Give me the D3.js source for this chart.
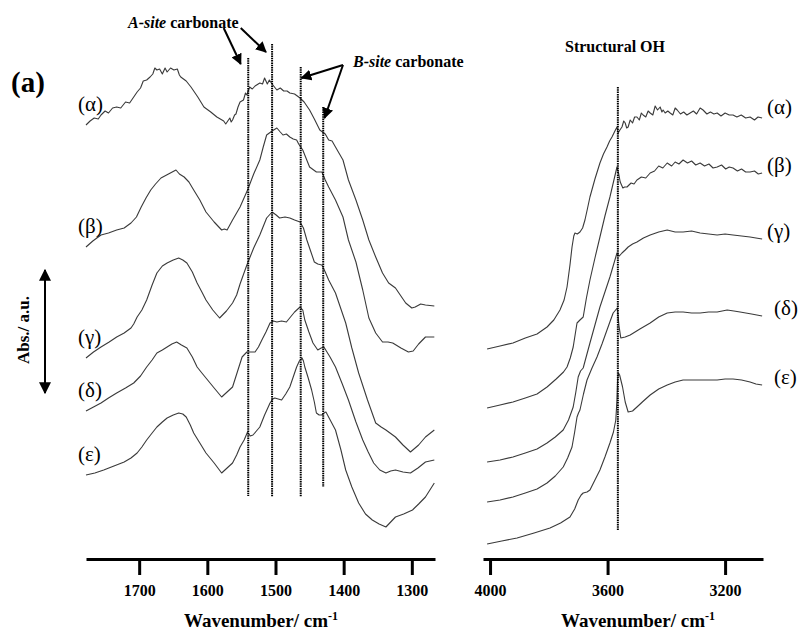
<!DOCTYPE html>
<html><head><meta charset="utf-8">
<script src="https://cdn.jsdelivr.net/npm/d3@7"></script>
<style>body{margin:0;background:#fff} svg text{font-family:'Liberation Serif','Times New Roman',Times,serif !important;fill:#000}</style>
</head><body><svg id="c" width="798" height="630"></svg>
<script>
// ---------- data ----------
const leftTicks = [1700, 1600, 1500, 1400, 1300];
const rightTicks = [4000, 3600, 3200];
const seriesLabels = ["(α)", "(β)", "(γ)", "(δ)", "(ε)"];

// carbonate region spectra [wavenumber, absorbance a.u.]
const carbAlpha = [[1778,43.5],[1772,43.9],[1766,44.2],[1760,44.1],[1756,44.5],[1750,44.9],[1745,44.7],[1739,45.2],[1733,45.3],[1727,45.2],[1720,45.8],[1714,45.7],[1708,46.3],[1703,46.8],[1698,47.2],[1694,47.9],[1689,48.0],[1684,48.3],[1680,48.6],[1677,49.2],[1674,49.0],[1670,49.1],[1666,48.6],[1662,49.2],[1659,48.8],[1654,49.2],[1649,49.0],[1644,49.1],[1641,48.5],[1639,48.3],[1631,47.9],[1624,47.3],[1614,46.3],[1605,45.3],[1595,44.8],[1586,44.3],[1576,43.9],[1573,43.6],[1571,43.8],[1567,44.2],[1565,43.8],[1563,44.0],[1560,44.5],[1558,44.6],[1555,45.3],[1552,45.8],[1547,46.0],[1544,46.7],[1542,46.5],[1538,47.3],[1534,47.1],[1530,47.4],[1523,47.7],[1519,47.6],[1516,48.2],[1512,47.6],[1509,48.0],[1505,47.6],[1498,47.0],[1493,47.2],[1488,46.9],[1483,46.9],[1479,46.7],[1472,46.6],[1464,46.2],[1458,45.8],[1450,45.0],[1443,44.1],[1435,43.0],[1431,42.8],[1427,42.6],[1422,42.0],[1417,41.9],[1412,41.3],[1401,40.0],[1393,38.0],[1382,36.0],[1372,34.0],[1363,32.0],[1353,30.3],[1343,28.7],[1334,27.7],[1324,27.2],[1309,25.7],[1300,25.2],[1295,25.3],[1287,25.6],[1280,25.5],[1267,25.4]];
const carbBeta = [[1778,31.3],[1768,31.9],[1756,32.5],[1745,32.7],[1733,33.0],[1722,33.2],[1712,33.7],[1704,34.3],[1697,35.3],[1690,36.2],[1683,37.0],[1676,37.6],[1668,38.2],[1657,38.6],[1646,39.0],[1641,38.6],[1634,38.3],[1627,37.8],[1620,37.0],[1611,36.0],[1602,34.8],[1590,33.8],[1579,33.0],[1575,33.1],[1571,33.0],[1563,34.0],[1552,35.3],[1541,37.0],[1532,38.6],[1523,40.0],[1518,41.3],[1513,42.5],[1505,42.9],[1498,43.2],[1493,42.8],[1489,42.5],[1484,42.6],[1479,42.3],[1474,42.1],[1469,42.0],[1466,41.6],[1460,41.0],[1450,39.3],[1440,38.8],[1432,38.8],[1427,38.0],[1422,37.3],[1412,36.0],[1401,34.3],[1393,32.0],[1382,29.8],[1372,27.0],[1363,24.2],[1353,22.7],[1343,21.8],[1335,21.8],[1328,21.7],[1316,21.2],[1305,20.8],[1298,20.9],[1290,21.6],[1280,22.3],[1267,22.3]];
const carbGamma = [[1778,20.2],[1767,20.8],[1756,21.3],[1744,21.8],[1733,22.3],[1722,22.7],[1712,23.2],[1708,23.6],[1703,24.3],[1696,25.0],[1689,26.0],[1681,27.5],[1674,28.7],[1666,29.4],[1659,29.7],[1650,30.0],[1642,30.2],[1636,30.0],[1630,29.7],[1622,28.8],[1615,27.7],[1608,26.8],[1602,26.0],[1592,25.0],[1582,24.2],[1572,24.9],[1563,25.7],[1557,26.5],[1552,27.6],[1542,29.5],[1532,31.2],[1523,32.5],[1513,34.2],[1505,34.8],[1499,34.5],[1494,34.2],[1486,34.3],[1479,34.2],[1472,34.0],[1464,33.8],[1459,33.2],[1454,32.0],[1448,30.8],[1443,29.8],[1438,29.6],[1432,29.5],[1427,28.8],[1422,28.0],[1412,26.7],[1397,23.7],[1388,21.2],[1378,18.7],[1365,16.0],[1353,13.7],[1345,13.3],[1338,13.0],[1324,12.3],[1313,11.5],[1302,10.8],[1290,11.5],[1280,12.3],[1267,13.0]];
const carbDelta = [[1778,14.9],[1767,15.3],[1756,15.7],[1745,16.2],[1733,16.7],[1720,17.2],[1708,17.7],[1698,18.4],[1689,19.3],[1681,20.0],[1674,20.7],[1666,21.0],[1659,21.3],[1652,21.6],[1645,21.8],[1638,21.5],[1630,21.2],[1622,20.3],[1615,19.3],[1608,18.7],[1602,18.2],[1590,17.2],[1579,16.3],[1571,16.8],[1563,17.3],[1556,18.8],[1549,20.3],[1542,20.8],[1536,20.8],[1530,20.8],[1525,21.3],[1520,22.0],[1514,22.8],[1508,23.7],[1503,23.9],[1498,23.8],[1491,23.9],[1484,23.8],[1478,24.3],[1472,24.8],[1464,25.3],[1460,25.0],[1457,24.0],[1451,22.8],[1445,21.7],[1438,21.0],[1433,21.2],[1429,21.3],[1420,20.3],[1412,19.3],[1402,17.6],[1393,16.0],[1382,13.8],[1372,12.0],[1364,10.8],[1356,9.7],[1347,9.0],[1338,8.7],[1331,8.9],[1324,9.0],[1313,8.8],[1302,8.7],[1291,9.2],[1280,9.8],[1267,10.0]];
const carbEpsilon = [[1778,8.5],[1765,8.7],[1752,9.0],[1737,9.4],[1722,9.8],[1712,10.2],[1703,10.7],[1696,11.3],[1689,12.0],[1681,12.7],[1674,13.3],[1666,13.8],[1659,14.2],[1650,14.5],[1642,14.7],[1636,14.6],[1631,14.3],[1625,13.5],[1620,12.7],[1611,11.7],[1602,10.7],[1590,9.7],[1579,8.7],[1571,9.2],[1563,9.7],[1557,10.5],[1552,11.3],[1546,12.0],[1541,12.8],[1537,12.4],[1533,12.5],[1528,12.9],[1523,13.3],[1516,14.5],[1508,15.7],[1504,16.1],[1501,16.2],[1496,16.1],[1491,16.0],[1485,16.6],[1479,17.3],[1474,18.3],[1469,19.3],[1465,19.9],[1461,20.2],[1459,19.9],[1457,19.3],[1452,18.2],[1447,17.0],[1443,15.8],[1440,14.7],[1436,14.5],[1432,14.5],[1429,14.7],[1426,14.8],[1419,13.9],[1412,13.0],[1404,11.0],[1397,9.0],[1388,7.3],[1378,5.7],[1368,4.6],[1358,4.0],[1348,3.6],[1338,3.3],[1331,3.8],[1324,4.3],[1312,4.6],[1299,5.0],[1290,5.6],[1280,6.3],[1267,7.7]];

// structural OH region spectra
const ohAlpha = [[4010,21.1],[3966,21.4],[3922,21.7],[3880,22.2],[3840,22.6],[3806,23.3],[3783,24.0],[3762,25.0],[3748,26.0],[3738,27.3],[3728,29.5],[3721,31.3],[3715,32.4],[3711,32.7],[3703,32.6],[3694,32.8],[3685,33.2],[3677,34.0],[3668,35.2],[3660,36.3],[3643,38.1],[3626,39.7],[3614,40.6],[3602,41.3],[3593,41.9],[3585,42.3],[3575,42.9],[3568,43.3],[3564,42.7],[3558,43.0],[3551,43.3],[3545,43.9],[3540,43.7],[3535,43.2],[3530,43.3],[3523,44.0],[3515,43.7],[3508,44.3],[3500,44.3],[3492,44.0],[3485,44.7],[3479,44.5],[3470,44.3],[3462,44.9],[3455,44.7],[3446,44.5],[3438,45.4],[3430,45.0],[3421,45.3],[3415,44.8],[3411,45.0],[3404,44.7],[3395,44.9],[3387,44.7],[3378,44.5],[3370,45.2],[3363,45.0],[3352,44.6],[3341,44.8],[3330,44.5],[3319,44.7],[3308,44.9],[3297,44.6],[3285,45.2],[3275,45.0],[3262,44.6],[3250,44.8],[3238,44.6],[3227,44.7],[3214,44.4],[3200,44.7],[3186,44.5],[3173,44.5],[3160,44.3],[3145,44.5],[3130,44.2],[3115,44.3],[3100,44.0],[3088,44.3],[3074,44.2]];
const ohBeta = [[4010,15.2],[3966,15.5],[3922,15.8],[3880,16.2],[3840,16.6],[3806,17.3],[3775,18.1],[3750,18.8],[3738,19.3],[3727,20.2],[3717,21.3],[3710,22.6],[3704,23.7],[3694,24.0],[3683,24.3],[3672,26.2],[3660,28.0],[3643,30.2],[3626,32.3],[3609,34.4],[3592,36.3],[3580,37.8],[3568,39.3],[3562,38.6],[3557,37.8],[3548,37.2],[3542,37.3],[3534,37.3],[3520,37.7],[3510,37.6],[3500,38.0],[3485,38.3],[3470,38.2],[3455,38.7],[3440,38.9],[3426,39.4],[3412,39.2],[3397,39.7],[3382,39.4],[3370,39.8],[3357,39.6],[3343,40.0],[3328,39.7],[3314,39.9],[3300,39.5],[3285,39.7],[3270,39.4],[3255,39.6],[3241,39.2],[3227,39.3],[3212,39.5],[3198,39.1],[3186,39.3],[3173,39.2],[3158,38.9],[3144,39.1],[3130,38.8],[3115,38.8],[3100,38.9],[3087,38.6],[3074,38.7]];
const ohGamma = [[4010,9.8],[3966,10.0],[3922,10.3],[3880,10.7],[3840,11.1],[3806,11.7],[3778,12.3],[3751,13.0],[3733,14.0],[3717,15.3],[3708,16.8],[3700,18.3],[3692,18.9],[3683,19.2],[3672,20.4],[3660,21.7],[3643,23.5],[3626,25.3],[3609,26.8],[3592,28.3],[3580,29.5],[3568,30.7],[3560,30.4],[3551,30.7],[3540,31.0],[3530,31.3],[3515,31.6],[3500,31.8],[3478,32.2],[3455,32.5],[3426,32.8],[3397,33.0],[3370,32.8],[3343,32.8],[3314,32.9],[3285,32.7],[3256,32.6],[3227,32.5],[3200,32.6],[3173,32.5],[3144,32.4],[3115,32.3],[3095,32.2],[3074,32.1]];
const ohDelta = [[4010,5.8],[3966,6.0],[3922,6.3],[3880,6.7],[3840,7.1],[3806,7.7],[3778,8.4],[3751,9.3],[3736,10.2],[3721,11.3],[3712,12.8],[3704,14.3],[3699,14.7],[3694,15.0],[3682,16.6],[3670,18.0],[3653,19.2],[3636,20.3],[3619,21.6],[3602,23.0],[3591,23.9],[3581,24.7],[3567,25.2],[3561,23.4],[3555,22.2],[3540,22.3],[3523,22.5],[3490,23.1],[3455,23.7],[3426,24.3],[3397,24.7],[3370,24.8],[3343,24.8],[3314,24.7],[3285,24.7],[3256,24.8],[3227,24.8],[3193,25.0],[3170,24.9],[3149,24.8],[3110,24.6],[3074,24.4]];
const ohEpsilon = [[4010,1.6],[3960,1.9],[3908,2.2],[3850,2.7],[3796,3.2],[3760,3.7],[3728,4.3],[3712,5.1],[3700,6.0],[3690,6.5],[3683,6.7],[3670,6.8],[3660,7.0],[3643,8.0],[3626,9.0],[3609,10.3],[3592,11.7],[3580,12.8],[3572,14.0],[3568,16.0],[3566,18.0],[3563,18.7],[3559,18.5],[3549,17.3],[3540,15.8],[3530,14.8],[3515,14.9],[3500,15.3],[3478,15.9],[3455,16.5],[3426,17.1],[3397,17.5],[3370,17.8],[3343,18.0],[3314,18.0],[3285,18.0],[3256,18.0],[3227,18.0],[3200,18.1],[3173,18.1],[3144,18.0],[3115,17.8],[3095,17.6],[3074,17.5]];

// reference marker lines
const carbonateLines = [1540, 1505, 1463, 1430];
const carbonateTop = [50.2, 51.6, 49.3, 45.3];
const carbonateBottom = [6.4, 6.3, 6.3, 7.3];
const ohLines = [3565];
const ohTop = [47.3];
const ohBottom = [3.0];

// ---------- drawing ----------
const FONT = "'Liberation Serif','Times New Roman',Times,serif";
const svg = d3.select("#c").attr("font-family", FONT);
const xL = d3.scaleLinear().domain([1778, 1266]).range([86, 435]);
const xR = d3.scaleLinear().domain([4024, 3071]).range([483, 763]);
const y = d3.scaleLinear().domain([0, 50]).range([560, 60]);
const axisY = 559;

const carb = [carbAlpha, carbBeta, carbGamma, carbDelta, carbEpsilon];
const oh = [ohAlpha, ohBeta, ohGamma, ohDelta, ohEpsilon];

function txt(sel) { return sel.style("font-family", FONT).attr("fill", "#000"); }

function drawSpectra(data, x) {
  const line = d3.line().x(d => x(d[0])).y(d => y(d[1]));
  svg.append("g").selectAll("path").data(data).join("path")
    .attr("d", line).attr("fill", "none").attr("stroke", "#3a3a3a").attr("stroke-width", 1.1)
    .attr("stroke-linejoin", "round");
}
drawSpectra(carb, xL);
drawSpectra(oh, xR);

function drawMarkers(pos, top, bot, x) {
  svg.append("g").selectAll("line").data(pos).join("line")
    .attr("x1", d => x(d)).attr("x2", d => x(d))
    .attr("y1", (d, i) => y(top[i])).attr("y2", (d, i) => y(bot[i]))
    .attr("stroke", "#000").attr("stroke-width", 2).attr("stroke-dasharray", "1.5,0.8");
}
drawMarkers(carbonateLines, carbonateTop, carbonateBottom, xL);
drawMarkers(ohLines, ohTop, ohBottom, xR);

function drawAxis(x, ticks) {
  const g = svg.append("g").attr("transform", `translate(0,${axisY})`)
    .call(d3.axisBottom(x).tickValues(ticks).tickSize(16).tickSizeOuter(0).tickFormat(d3.format("d")));
  g.attr("font-family", FONT);
  g.select(".domain").attr("stroke", "#000").attr("stroke-width", 3);
  g.selectAll(".tick line").attr("stroke", "#000").attr("stroke-width", 3);
  txt(g.selectAll(".tick text")).attr("y", 37).attr("dy", 0)
    .style("font-size", "16px").style("font-weight", "bold");
}
drawAxis(xL, leftTicks);
drawAxis(xR, rightTicks);

// axis titles
function axisTitle(cx) {
  const t = txt(svg.append("text")).attr("x", cx).attr("y", 627).attr("text-anchor", "middle")
    .style("font-size", "19px").style("font-weight", "bold");
  t.append("tspan").text("Wavenumber/ cm");
  t.append("tspan").text("-1").attr("dy", -7).style("font-size", "12px");
}
axisTitle(261);
axisTitle(638);

// series labels
carb.forEach((s, i) => {
  txt(svg.append("text")).attr("x", 78).attr("y", y(s[0][1]) - 14)
    .style("font-size", "21px").text(seriesLabels[i]);
});
oh.forEach((s, i) => {
  txt(svg.append("text")).attr("x", i >= 3 ? 774 : 767).attr("y", y(s[s.length - 1][1]) - (i === 0 ? 4 : 1))
    .style("font-size", "21px").text(seriesLabels[i]);
});

// panel labels
txt(svg.append("text")).attr("x", 11).attr("y", 92).style("font-size", "29px").style("font-weight", "bold").text("(a)");
txt(svg.append("text")).attr("x", 615).attr("y", 52).attr("text-anchor", "middle")
  .style("font-size", "16px").style("font-weight", "bold").text("Structural OH");

// y-axis label and double arrow
txt(svg.append("text")).attr("transform", "translate(29,330) rotate(-90)").attr("text-anchor", "middle")
  .style("font-size", "17px").style("font-weight", "bold").text("Abs./ a.u.");

const defs = svg.append("defs");
defs.append("marker").attr("id", "ah").attr("viewBox", "0 0 10 10").attr("refX", 9).attr("refY", 5)
  .attr("markerWidth", 11).attr("markerHeight", 11).attr("markerUnits", "userSpaceOnUse").attr("orient", "auto")
  .append("path").attr("d", "M0,0 L10,5 L0,10 Z").attr("fill", "#000");
defs.append("marker").attr("id", "ah2").attr("viewBox", "0 0 10 10").attr("refX", 9).attr("refY", 5)
  .attr("markerWidth", 12).attr("markerHeight", 12).attr("markerUnits", "userSpaceOnUse").attr("orient", "auto-start-reverse")
  .append("path").attr("d", "M0,0 L10,5 L0,10 Z").attr("fill", "#000");

svg.append("line").attr("x1", 45).attr("x2", 45).attr("y1", 270).attr("y2", 393)
  .attr("stroke", "#000").attr("stroke-width", 2)
  .attr("marker-start", "url(#ah2)").attr("marker-end", "url(#ah2)");

// carbonate annotations (data coordinates: wavenumber, a.u.)
const annA = [[[1576, 53.2], [1551, 49.6]], [[1551, 53.2], [1514, 50.8]]];
const annB = [[[1401, 49.5], [1462, 48.2]], [[1401, 49.5], [1428, 44.2]]];
[...annA, ...annB].forEach(a => {
  svg.append("line").attr("x1", xL(a[0][0])).attr("y1", y(a[0][1])).attr("x2", xL(a[1][0])).attr("y2", y(a[1][1]))
    .attr("stroke", "#000").attr("stroke-width", 2).attr("marker-end", "url(#ah)");
});
const tA = txt(svg.append("text")).attr("x", 128).attr("y", 28).style("font-size", "16px").style("font-weight", "bold");
tA.append("tspan").style("font-style", "italic").text("A-site");
tA.append("tspan").text(" carbonate");
const tB = txt(svg.append("text")).attr("x", 353).attr("y", 67).style("font-size", "16px").style("font-weight", "bold");
tB.append("tspan").style("font-style", "italic").text("B-site");
tB.append("tspan").text(" carbonate");
</script></body></html>
